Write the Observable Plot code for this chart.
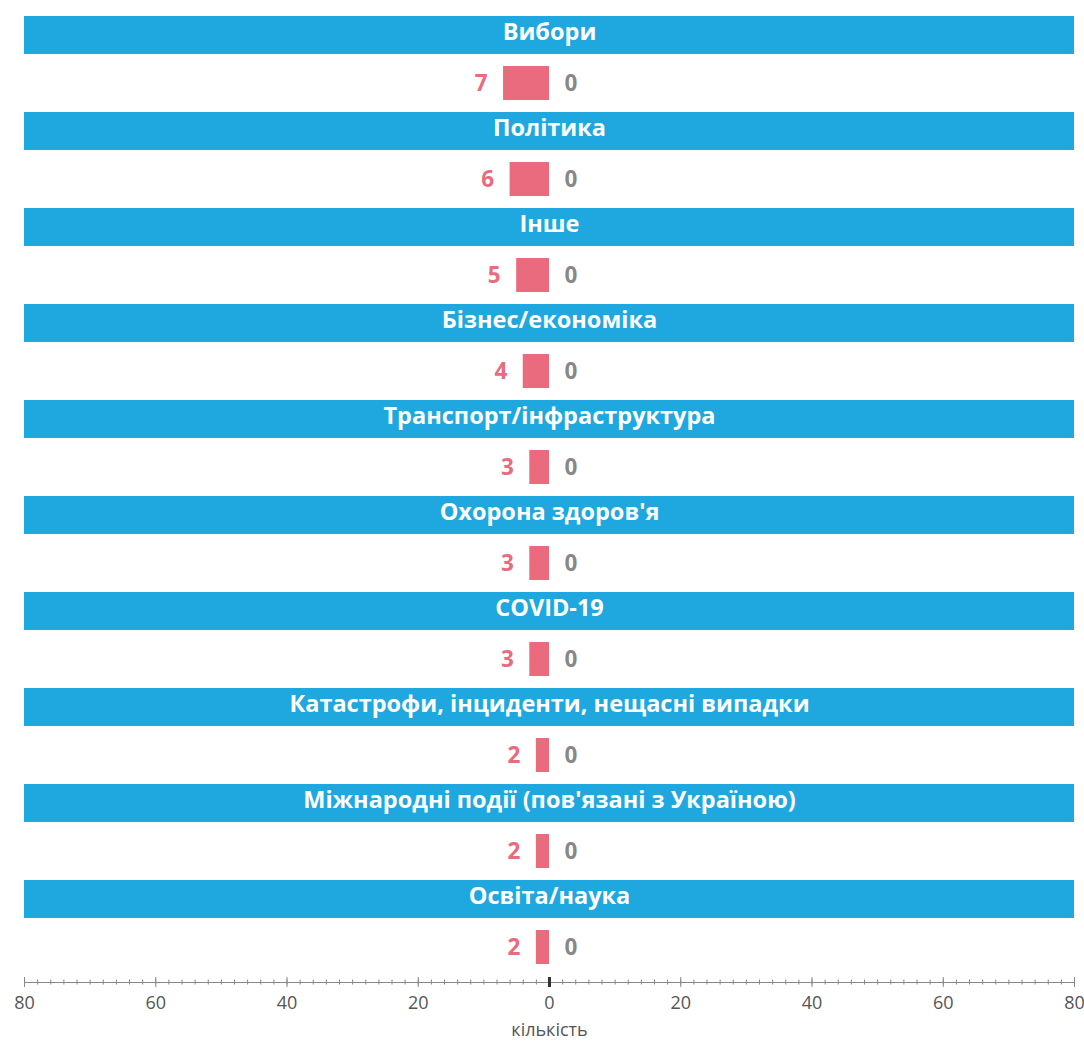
<!DOCTYPE html>
<html>
<head>
<meta charset="utf-8">
<script src="https://cdn.jsdelivr.net/npm/d3@7"></script>
<script src="https://cdn.jsdelivr.net/npm/@observablehq/plot@0.6"></script>
<style>
  html, body { margin: 0; padding: 0; background: #fff; }
  #chart svg { display: block; }
</style>
</head>
<body>
<div id="chart"></div>
<script>
const categories = [
  "Вибори",
  "Політика",
  "Інше",
  "Бізнес/економіка",
  "Транспорт/інфраструктура",
  "Охорона здоров'я",
  "COVID-19",
  "Катастрофи, інциденти, нещасні випадки",
  "Міжнародні події (пов'язані з Україною)",
  "Освіта/наука"
];
const leftValues = [7, 6, 5, 4, 3, 3, 3, 2, 2, 2];
const rightValues = [0, 0, 0, 0, 0, 0, 0, 0, 0, 0];
const xDomain = [-80, 80];
const majorTicks = [-80, -60, -40, -20, 0, 20, 40, 60, 80];
const axisLabel = "кількість";

const blue = "#1FA8E0";
const pink = "#EA6A7E";
const gray = "#888888";
const font = "Open Sans";

const headers = categories.map(c => ({cat: c, key: c + "|h"}));
const rows = categories.map((c, i) => ({cat: c, key: c + "|b", left: leftValues[i], right: rightValues[i]}));
const yDomain = categories.flatMap(c => [c + "|h", c + "|b"]);
const minorTicks = d3.range(xDomain[0], xDomain[1] + 1, 2);

const chart = Plot.plot({
  width: 1084,
  height: 1041,
  marginLeft: 24,
  marginRight: 10,
  marginTop: 11,
  marginBottom: 59,
  style: {fontFamily: font, fontSize: "18px", color: "#555"},
  x: {domain: xDomain},
  y: {domain: yDomain, range: [11, 971], padding: 0, axis: null},
  marks: [
    Plot.barX(headers, {x1: xDomain[0], x2: xDomain[1], y: "key", fill: blue, insetTop: 5, insetBottom: 5}),
    Plot.text(headers, {x: 0, y: "key", text: "cat", fill: "white", fontWeight: 700, fontSize: 23.5, dy: -3, fontFamily: font}),
    Plot.barX(rows, {x1: d => -d.left, x2: 0, y: "key", fill: pink, insetTop: 7, insetBottom: 7}),
    Plot.barX(rows, {x1: 0, x2: d => d.right, y: "key", fill: gray, insetTop: 7, insetBottom: 7}),
    Plot.text(rows, {x: d => -d.left, y: "key", text: d => String(d.left), textAnchor: "end", dx: -16, fill: pink, fontWeight: 700, fontSize: 22.5, fontFamily: font}),
    Plot.text(rows, {x: d => d.right, y: "key", text: d => String(d.right), textAnchor: "start", dx: 15, fill: gray, fontWeight: 700, fontSize: 22.5, fontFamily: font}),
    Plot.frame({anchor: "bottom", stroke: "#888"}),
    Plot.axisX({ticks: minorTicks, tickSize: 5, dy: -2.5, fill: "none", stroke: "#888", label: null}),
    Plot.axisX({ticks: majorTicks, tickSize: 10, dy: -5, fill: "none", stroke: "#888", label: null}),
    Plot.axisX({ticks: [0], tickSize: 10, dy: -5, fill: "none", stroke: "#333", strokeWidth: 3, label: null}),
    Plot.axisX({ticks: majorTicks, tickSize: 0, tickPadding: 14, tickFormat: d => String(Math.abs(d)), fill: "#555", fontSize: 18,
      label: axisLabel, labelAnchor: "center", labelArrow: "none", labelOffset: 53})
  ]
});
document.getElementById("chart").appendChild(chart);
</script>
</body>
</html>
